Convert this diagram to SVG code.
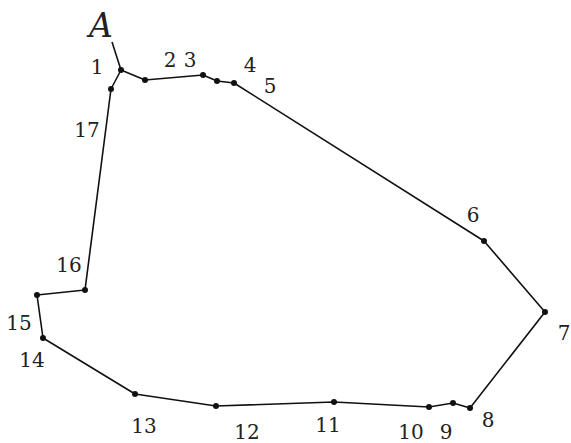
<svg xmlns="http://www.w3.org/2000/svg" width="571" height="443" viewBox="0 0 571 443">
<style>
.l{fill:none;stroke:#111;stroke-width:1.6;stroke-linejoin:round}
.d{fill:#111}
.t{font-family:'DejaVu Serif','Liberation Serif',serif;font-size:20px;fill:#222;text-anchor:middle}
.a{font-style:italic;font-size:33px}
</style>
<rect width="571" height="443" fill="#fff"/>
<g id="connectors">
<polyline class="l" points="121,70 145,80 203,75 217,81 234,83 484,241 545,312 470,408 453,403 429,407 334,402 216,406 135,394 43,338 37,295 85,290 111,89 121,70"/>
<line class="l" x1="112" y1="42" x2="121" y2="70"/>
</g>
<g id="n1"><circle class="d" cx="121" cy="70" r="3"/><text class="t" x="97" y="74">1</text></g>
<g id="nA"><text class="t a" x="101" y="37">A</text></g>
<g id="n2"><circle class="d" cx="145" cy="80" r="3"/><text class="t" x="170" y="67">2</text></g>
<g id="n3"><circle class="d" cx="203" cy="75" r="3"/><text class="t" x="190" y="67">3</text></g>
<g id="n4"><circle class="d" cx="217" cy="81" r="3"/><text class="t" x="250" y="72">4</text></g>
<g id="n5"><circle class="d" cx="234" cy="83" r="3"/><text class="t" x="270" y="93">5</text></g>
<g id="n6"><circle class="d" cx="484" cy="241" r="3"/><text class="t" x="473" y="222">6</text></g>
<g id="n7"><circle class="d" cx="545" cy="312" r="3"/><text class="t" x="564" y="340">7</text></g>
<g id="n8"><circle class="d" cx="470" cy="408" r="3"/><text class="t" x="488" y="427">8</text></g>
<g id="n9"><circle class="d" cx="453" cy="403" r="3"/><text class="t" x="446" y="439">9</text></g>
<g id="n10"><circle class="d" cx="429" cy="407" r="3"/><text class="t" x="411" y="439">10</text></g>
<g id="n11"><circle class="d" cx="334" cy="402" r="3"/><text class="t" x="328" y="432">11</text></g>
<g id="n12"><circle class="d" cx="216" cy="406" r="3"/><text class="t" x="247" y="439">12</text></g>
<g id="n13"><circle class="d" cx="135" cy="394" r="3"/><text class="t" x="144" y="433">13</text></g>
<g id="n14"><circle class="d" cx="43" cy="338" r="3"/><text class="t" x="32" y="367">14</text></g>
<g id="n15"><circle class="d" cx="37" cy="295" r="3"/><text class="t" x="19" y="330">15</text></g>
<g id="n16"><circle class="d" cx="85" cy="290" r="3"/><text class="t" x="69" y="272">16</text></g>
<g id="n17"><circle class="d" cx="111" cy="89" r="3"/><text class="t" x="87" y="137">17</text></g>
</svg>
